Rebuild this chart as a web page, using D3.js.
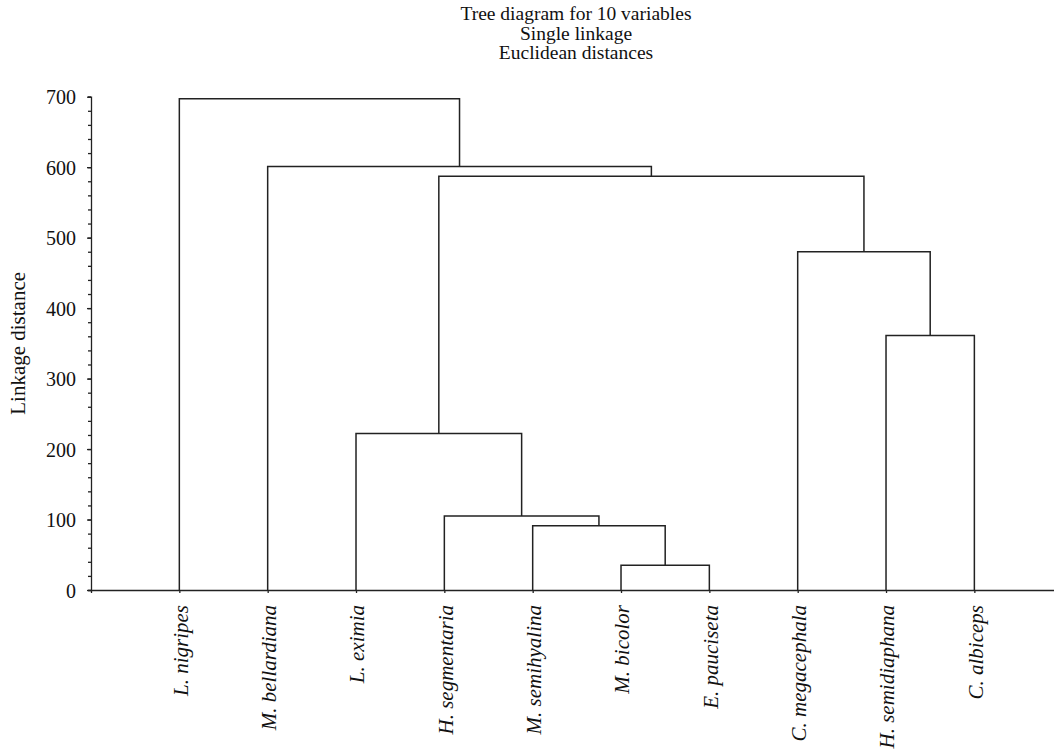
<!DOCTYPE html>
<html>
<head>
<meta charset="utf-8">
<script src="https://cdn.jsdelivr.net/npm/d3@7"></script>
<style>
  body { margin: 0; background: #fff; }
  svg text { font-family: "Liberation Serif", "DejaVu Serif", serif; fill: #111; }
  .link { fill: none; stroke: #222; stroke-width: 1.5; }
  .axis path, .axis line { stroke: #222; stroke-width: 1.3; }
</style>
</head>
<body>
<div id="chart"></div>
<script>
const titleLines = ['Tree diagram for 10 variables', 'Single linkage', 'Euclidean distances']

const leaves = ['L. nigripes', 'M. bellardiana', 'L. eximia', 'H. segmentaria', 'M. semihyalina',
  'M. bicolor', 'E. pauciseta', 'C. megacephala', 'H. semidiaphana', 'C. albiceps']

// linkage rows: [left, right, distance]; ids < 10 are leaves, then clusters in order
const merges = [
  [5, 6, 35],
  [4, 10, 91],
  [3, 11, 105],
  [2, 12, 222],
  [8, 9, 361],
  [7, 14, 480],
  [13, 15, 587],
  [1, 16, 601],
  [0, 17, 697]
]

const yTicks = [0, 100, 200, 300, 400, 500, 600, 700]

const width = 1054, height = 749

let svg = d3.select('#chart').append('svg')
  .attr('width', width)
  .attr('height', height)

let x = d3.scaleLinear().domain([0, leaves.length + 1]).range([91, 1062.7])
let y = d3.scaleLinear().domain([0, 700]).range([590, 96.7])

// node positions
let nodes = leaves.map((name, i) => ({ x: i + 1, h: 0 }))
merges.forEach(m => {
  let a = nodes[m[0]], b = nodes[m[1]]
  nodes.push({ x: (a.x + b.x) / 2, h: m[2], a: a, b: b })
})

// title
svg.append('g').selectAll('text')
  .data(titleLines)
  .enter()
  .append('text')
  .attr('x', 576)
  .attr('y', (d, i) => 20 + i * 19.5)
  .attr('text-anchor', 'middle')
  .style('font-size', '19.5px')
  .text(d => d)

// y axis with minor ticks
svg.append('g')
  .attr('class', 'axis')
  .attr('transform', `translate(${x(0)},0)`)
  .call(d3.axisLeft(y).tickValues(d3.range(0, 701, 20)).tickSize(3).tickFormat(''))

let yAxis = svg.append('g')
  .attr('class', 'axis')
  .attr('transform', `translate(${x(0)},0)`)
  .call(d3.axisLeft(y).tickValues(yTicks).tickSize(4).tickPadding(11))
yAxis.select('.domain').remove()
yAxis.selectAll('text').style('font-size', '20px').attr('dy', '0.35em')

svg.append('text')
  .attr('transform', `translate(25,${y(350)}) rotate(-90)`)
  .attr('text-anchor', 'middle')
  .style('font-size', '21px')
  .text('Linkage distance')

// x axis
svg.append('g')
  .attr('class', 'axis')
  .attr('transform', `translate(0,${y(0)})`)
  .call(d3.axisBottom(x).tickValues(d3.range(0, leaves.length + 1)).tickSize(3).tickSizeOuter(0).tickFormat(''))

svg.append('g').selectAll('text')
  .data(leaves)
  .enter()
  .append('text')
  .attr('transform', (d, i) => `translate(${x(i + 1) + 1},605) rotate(-90)`)
  .attr('text-anchor', 'end')
  .attr('dy', '0.35em')
  .style('font-size', '21px')
  .style('font-style', 'italic')
  .text(d => d)

// dendrogram links
let clusters = nodes.slice(leaves.length)
svg.append('g').selectAll('path')
  .data(clusters)
  .enter()
  .append('path')
  .attr('class', 'link')
  .attr('d', d => 'M' + x(d.a.x) + ',' + y(d.a.h) +
    'V' + y(d.h) + 'H' + x(d.b.x) + 'V' + y(d.b.h))
</script>
</body>
</html>
